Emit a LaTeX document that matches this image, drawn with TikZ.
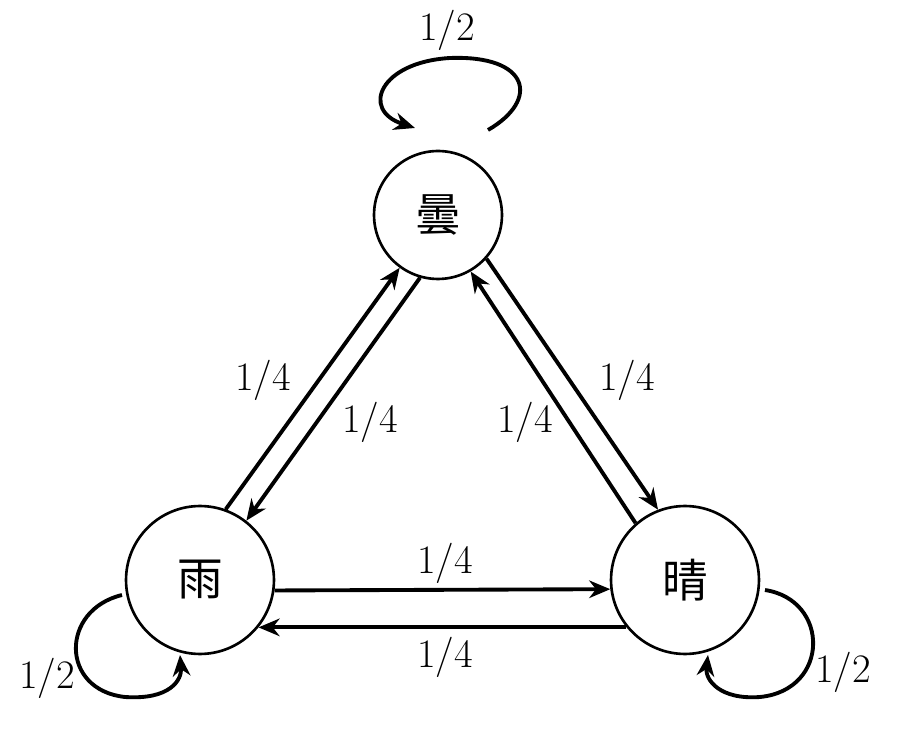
\documentclass[tikz,border=0pt]{standalone}
\usepackage{fontspec}
\newfontfamily\cjk{Noto Sans CJK JP}
\usetikzlibrary{arrows.meta}
\begin{document}
\begin{tikzpicture}[x=0.02cm,y=-0.02cm,
  st/.style={circle,draw,line width=1.5pt,minimum size=#1*0.04cm,inner sep=0pt,font=\cjk\fontsize{26}{26}\selectfont},
  ar/.style={line width=2.2pt,-{Stealth[length=12pt,width=10pt]}},
  lb/.style={font=\fontsize{23}{23}\selectfont}]
\useasboundingbox (0,0) rectangle (906,732);
\node[st=64] (c) at (438,215) {曇};
\node[st=74] (r) at (200,580) {雨};
\node[st=74] (s) at (685,580) {晴};
\draw[ar] (r.70.7) -- (c.234.4);
\draw[ar] (c.254.5) -- (r.52.4);
\draw[ar] (c.318) -- (s.111.8);
\draw[ar] (s.131.6) -- (c.300);
\draw[ar] (r.352) -- (s.187.6);
\draw[ar] (s.219) -- (r.321);
% loops
\coordinate (t1) at (488,130); \coordinate (t2) at (415,128);
\draw[ar] (t1) .. controls (540,100) and (530,55) .. (450,58) .. controls (380,62) and (360,110) .. (t2);
\coordinate (l1) at (122,595); \coordinate (l2) at (180,655);
\draw[ar] (l1) .. controls (60,610) and (60,690) .. (125,697) .. controls (170,700) and (182,680) .. (l2);
\coordinate (r1) at (765,590); \coordinate (r2) at (708,655);
\draw[ar] (r1) .. controls (830,600) and (830,690) .. (760,697) .. controls (720,700) and (705,680) .. (r2);
\node[lb] (l01) at (447,30) {1/2};
\node[lb] (l02) at (47,678) {1/2};
\node[lb] (l03) at (843,672) {1/2};
\node[lb] (l04) at (263,380) {1/4};
\node[lb] (l05) at (370,422) {1/4};
\node[lb] (l06) at (627,380) {1/4};
\node[lb] (l07) at (525,422) {1/4};
\node[lb] (l08) at (445,563) {1/4};
\node[lb] (l09) at (445,657) {1/4};
\end{tikzpicture}
\end{document}
